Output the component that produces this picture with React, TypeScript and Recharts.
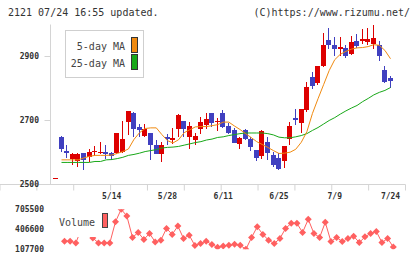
import React from 'react';
import { ComposedChart, LineChart, Bar, Line, XAxis, YAxis } from 'recharts';

const dates = ['4/25','4/26','4/30','5/1','5/2','5/7','5/8','5/9','5/10','5/13','5/14','5/15','5/16','5/17','5/20','5/21','5/22','5/23','5/24','5/27','5/28','5/29','5/30','5/31','6/3','6/4','6/5','6/6','6/7','6/10','6/11','6/12','6/13','6/14','6/17','6/18','6/19','6/20','6/21','6/24','6/25','6/26','6/27','6/28','7/1','7/2','7/3','7/4','7/5','7/8','7/9','7/10','7/11','7/12','7/16','7/17','7/18','7/19','7/22','7/23','7/24'];

const opens = [2519,2650,2606,2581,2573,2597,2585,2603,2597,2603,2600,2597,2603,2694,2722,2681,2653,2662,2625,2594,2647,2638,2672,2700,2647,2638,2672,2687,2725,2694,2725,2684,2669,2628,2669,2641,2609,2588,2634,2591,2584,2575,2641,2709,2691,2734,2837,2816,2869,2953,2937,2922,2928,2909,2950,2950,2944,2940,2937,2859,2834];
const closes = [2519,2610,2600,2594,2594,2576,2603,2606,2603,2594,2588,2662,2641,2731,2675,2669,2675,2622,2594,2625,2641,2644,2716,2675,2684,2653,2694,2706,2691,2700,2681,2662,2631,2644,2641,2616,2584,2666,2600,2562,2550,2619,2684,2703,2737,2806,2809,2869,2937,2937,2922,2931,2903,2944,2934,2956,2956,2959,2903,2819,2822];
const highs = [2520,2653,2624,2600,2598,2600,2611,2619,2634,2625,2603,2662,2697,2731,2728,2688,2688,2662,2638,2634,2659,2678,2719,2700,2694,2662,2712,2722,2725,2709,2734,2691,2678,2650,2675,2647,2609,2669,2650,2603,2597,2619,2694,2737,2737,2819,2853,2869,2975,2990,2962,2962,2937,2965,2969,2987,2990,2997,2947,2869,2840];
const lows = [2518,2601,2584,2560,2554,2545,2570,2588,2594,2581,2578,2594,2600,2656,2650,2650,2650,2578,2594,2569,2625,2628,2647,2647,2612,2625,2659,2675,2681,2666,2678,2659,2631,2612,2638,2606,2575,2581,2578,2556,2544,2553,2622,2687,2662,2728,2797,2812,2866,2922,2903,2903,2894,2906,2928,2940,2937,2925,2887,2816,2803];

const ma5 = [null,2577,2577,2577,2577,2583,2588,2591,2591,2591,2592,2597,2603,2611,2641,2662,2675,2677,2677,2656,2637,2630,2640,2662,2671,2680,2681,2681,2684,2687,2695,2695,2683,2672,2659,2647,2634,2625,2616,2606,2597,2598,2601,2610,2632,2665,2722,2768,2812,2856,2890,2907,2916,2923,2927,2928,2931,2937,2935,2919,2893];
const ma25 = [null,2569,2569,2569,2569,2569,2569,2572,2572,2577,2578,2581,2585,2591,2594,2598,2603,2606,2609,2614,2616,2617,2619,2623,2627,2631,2634,2639,2642,2647,2649,2653,2656,2659,2661,2661,2661,2661,2659,2655,2648,2646,2646,2649,2653,2659,2669,2678,2689,2700,2709,2720,2730,2739,2747,2759,2769,2780,2788,2794,2803];

const volumes = [null,null,228500,228500,202800,415000,420000,275000,202800,202800,202800,519800,705500,605900,284300,359800,254100,344700,217900,243600,420200,329600,454900,269200,319000,163600,193800,228500,178600,137900,157500,168100,183200,168100,107700,284300,444300,329600,243600,193800,269200,420200,495500,495500,359800,556100,344700,284300,510600,224000,284300,224000,269200,304000,208900,293400,344700,374900,208900,269200,142400];

const priceTicks = [2500, 2700, 2900];
const dateTicks = ['5/14', '5/28', '6/11', '6/25', '7/9', '7/24'];
const volumeTicks = [107700, 406600, 705500];
const gridTicks = [0, 1, 2, 3, 4, 5, 6, 7, 8, 9, 10, 11];

const rows = dates.map((date, i) => ({
  date,
  open: opens[i],
  close: closes[i],
  high: highs[i],
  low: lows[i],
  ma5: ma5[i],
  ma25: ma25[i],
  volume: volumes[i],
}));
const gridRows = gridTicks.map((k) => ({ k }));

const UP = '#dd0000';
const DOWN = '#4040c0';
const ORANGE = '#f08a10';
const GREEN = '#18a818';
const VOL = '#ff6060';
const AXIS = '#d4d4d4';
const FONT = '"DejaVu Sans Mono", monospace';
const PAD = { left: 2.64, right: 12.2 };
const MAIN_MARGIN = { top: 24.5, right: 14.5, bottom: 20.48, left: 0 };

function Candle(props: any) {
  const { x, y, width, height, payload } = props;
  if (!payload || x == null || y == null) return <g />;
  const top = Math.min(y, y + height);
  const h = Math.abs(height);
  const { open, close, high, low } = payload;
  const ratio = high > low ? h / (high - low) : 0;
  const bodyTop = top + (high - Math.max(open, close)) * ratio;
  const bodyBot = top + (high - Math.min(open, close)) * ratio;
  const color = close >= open ? UP : DOWN;
  const left = Math.round(x);
  const w = Math.round(width);
  const cx = left + Math.floor(w / 2) + 0.5;
  const bt = Math.round(bodyTop);
  const bh = Math.max(1, Math.round(bodyBot) - bt);
  return (
    <g>
      <line x1={cx} x2={cx} y1={Math.round(top)} y2={Math.round(top + h)} stroke={color} strokeWidth={1} shapeRendering="crispEdges" />
      <rect x={left} y={bt} width={w} height={bh} fill={color} shapeRendering="crispEdges" />
    </g>
  );
}

function Diamond(props: any) {
  const { cx, cy, value, index } = props;
  if (cx == null || cy == null || value == null) return <g key={`d${index}`} />;
  const r = 3.5;
  return (
    <polygon
      key={`d${index}`}
      points={`${cx},${cy - r} ${cx + r},${cy} ${cx},${cy + r} ${cx - r},${cy}`}
      fill={VOL}
    />
  );
}

const EmptyTick = () => <g />;

const tickStyle = { fontSize: 8, fill: '#333', fontFamily: FONT, fontWeight: 'bold' as const };

export default function App() {
  return (
    <div style={{ position: 'absolute', left: 0, top: 0, width: 420, height: 259, background: '#fff', fontFamily: FONT }}>
      <div style={{ position: 'absolute', left: 0, top: 0 }}>
        <LineChart width={420} height={205} data={gridRows} margin={MAIN_MARGIN}>
          <XAxis
            dataKey="k"
            type="number"
            domain={[0, 11]}
            ticks={gridTicks}
            tick={EmptyTick}
            interval={0}
            height={0.01}
            axisLine={{ stroke: AXIS }}
            tickLine={{ stroke: AXIS }}
            tickSize={6}
          />
          <YAxis hide width={50.5} domain={[0, 11]} />
          <Line dataKey="k" stroke="none" dot={false} activeDot={false} isAnimationActive={false} />
        </LineChart>
      </div>
      <div style={{ position: 'absolute', left: 0, top: 0 }}>
        <ComposedChart width={420} height={205} data={rows} margin={MAIN_MARGIN}>
          <XAxis
            dataKey="date"
            type="category"
            ticks={dateTicks}
            interval={0}
            height={0.01}
            padding={PAD}
            axisLine={false}
            tickLine={false}
            tickSize={0}
            tickMargin={9.3}
            tick={tickStyle}
          />
          <YAxis
            domain={[2500, 3000]}
            ticks={priceTicks}
            width={50.5}
            allowDataOverflow
            axisLine={{ stroke: AXIS }}
            tickLine={{ stroke: AXIS }}
            tickSize={6}
            tickMargin={5.5}
            tick={tickStyle}
          />
          <Line type="linear" dataKey="ma25" stroke={GREEN} strokeWidth={1} dot={false} isAnimationActive={false} />
          <Line type="linear" dataKey="ma5" stroke={ORANGE} strokeWidth={1} dot={false} isAnimationActive={false} />
          <Bar dataKey={(d: any) => [d.low, d.high]} barSize={5} shape={<Candle />} isAnimationActive={false} />
        </ComposedChart>
      </div>
      <div style={{ position: 'absolute', left: 0, top: 200 }}>
        <LineChart width={420} height={59} data={rows} margin={{ top: 9.3, right: 14.5, bottom: 9.7, left: 0 }}>
          <XAxis dataKey="date" type="category" hide padding={PAD} />
          <YAxis
            domain={[107700, 705500]}
            ticks={volumeTicks}
            width={50.5}
            allowDataOverflow
            axisLine={false}
            tickLine={false}
            tickSize={0}
            tickMargin={6.5}
            tick={tickStyle}
          />
          <Line type="linear" dataKey="volume" stroke={VOL} strokeWidth={1} dot={Diamond} isAnimationActive={false} />
        </LineChart>
      </div>
      <svg width={420} height={259} style={{ position: 'absolute', left: 0, top: 0, pointerEvents: 'none' }}>
        <g fontFamily={FONT} fontSize={10} fill="#333">
          <text x={8} y={16}>2121 07/24 16:55 updated.</text>
          <text x={410} y={16} textAnchor="end">(C)https://www.rizumu.net/</text>
          <rect x={65.5} y={30.5} width={78} height={47} fill="#fff" stroke="#cfcfcf" />
          <text x={125} y={50} textAnchor="end" fill="#444">5-day MA</text>
          <text x={125} y={67.3} textAnchor="end" fill="#444">25-day MA</text>
          <rect x={131.5} y={37.5} width={6} height={15} fill={ORANGE} stroke="#333" />
          <rect x={131.5} y={54.5} width={6} height={15} fill={GREEN} stroke="#333" />
          <rect x={54} y={205} width={57} height={32} fill="#fff" />
          <text x={59} y={226} fill="#444">Volume</text>
          <rect x={102.5} y={213.5} width={5} height={14} fill={VOL} stroke="#444" />
        </g>
      </svg>
    </div>
  );
}
